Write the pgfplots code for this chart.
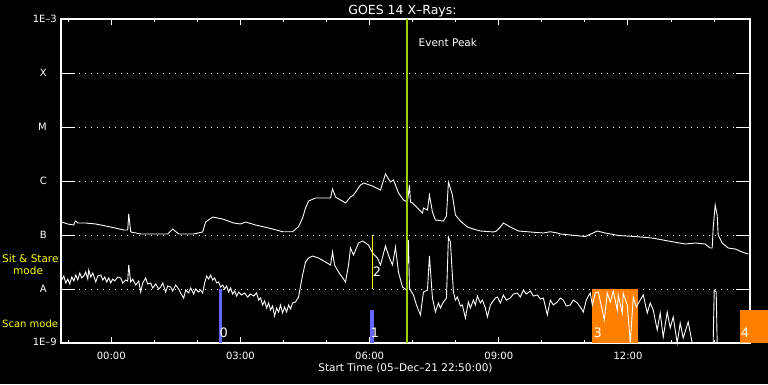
\documentclass[border=0pt]{standalone}
\usepackage{fontspec}
\setmainfont{DejaVu Sans}
\usepackage{pgfplots}
\pgfplotsset{compat=1.18}
\definecolor{evgreen}{RGB}{160,204,0}
\definecolor{barblue}{RGB}{100,100,255}
\definecolor{barorange}{RGB}{255,128,0}
\definecolor{labyellow}{RGB}{255,255,0}
\begin{document}
\begin{tikzpicture}
\useasboundingbox (0,0) rectangle (768pt,384pt);
\fill[black] (0,0) rectangle (768pt,384pt);
\node[labyellow, anchor=base west, inner sep=0pt, font=\fontsize{10.5}{12}\selectfont] at (2pt,121.5pt) {Sit \& Stare};
\node[labyellow, anchor=base west, inner sep=0pt, font=\fontsize{10.5}{12}\selectfont] at (13pt,109.5pt) {mode};
\node[labyellow, anchor=base west, inner sep=0pt, font=\fontsize{10}{12}\selectfont] at (2pt,56.5pt) {Scan mode};
\begin{axis}[
  at={(61pt,41pt)}, anchor=south west,
  scale only axis, width=689pt, height=324pt,
  xmin=-1.1667, xmax=14.8333, ymin=-9, ymax=-3,
  clip=false,
  axis line style={white, line width=1.2pt},
  xtick={0,3,6,9,12},
  xticklabels={00:00,03:00,06:00,09:00,12:00},
  minor xtick={-1,1,2,4,5,7,8,10,11,13,14},
  major tick length=6pt, minor tick length=3pt,
  tick style={white, line width=1pt},
  ytick={-9,-8,-7,-6,-5,-4,-3},
  yticklabels={\raisebox{3pt}{1E--9},A\hspace*{10pt},B\hspace*{10pt},C\hspace*{10pt},M\hspace*{10pt},X\hspace*{10pt},\raisebox{-4pt}{1E--3}},
  ytick style={/pgfplots/major tick length=14pt},
  ymajorgrids,
  major grid style={white, line width=0.9pt, dash pattern=on 0.9pt off 5.1pt},
  tick label style={white, font=\fontsize{10}{12}\selectfont},
  xticklabel style={inner sep=0pt, yshift=-9pt},
  yticklabel style={inner sep=0pt, xshift=-4pt},
  every axis title shift=0pt,
  title={GOES 14 X--Rays:},
  title style={white, font=\fontsize{12.5}{14}\selectfont, at={(axis description cs:0.5,1)}, anchor=base, yshift=5pt, xshift=-3pt, inner sep=0pt},
  xlabel={Start Time (05--Dec--21 22:50:00)},
  xlabel style={white, font=\fontsize{10.5}{12}\selectfont, at={(axis description cs:0.5,0)}, anchor=base, yshift=-28.5pt, inner sep=0pt},
]
% observation mode boxes
\addplot[fill=barorange, draw=none] coordinates {(11.171,-9) (12.231,-9) (12.231,-8) (11.171,-8)} -- cycle;
\addplot[fill=barorange, draw=none] coordinates {(14.604,-9) (15.254,-9) (15.254,-8.389) (14.604,-8.389)} -- cycle;
\addplot[fill=barblue, draw=none] coordinates {(2.494,-9) (2.575,-9) (2.575,-8) (2.494,-8)} -- cycle;
\addplot[fill=barblue, draw=none] coordinates {(6.020,-9) (6.102,-9) (6.102,-8.389) (6.020,-8.389)} -- cycle;
% long channel (log10 W/m^2)
\addplot[white, line width=0.9pt] table {
-1.148 -6.759
-1.009 -6.796
-0.870 -6.815
-0.847 -6.759
-0.824 -6.741
-0.777 -6.778
-0.592 -6.778
-0.360 -6.796
-0.012 -6.852
0.290 -6.907
0.383 -6.907
0.406 -6.611
0.452 -6.944
0.684 -6.981
1.311 -6.981
1.427 -6.889
1.566 -6.981
1.914 -6.981
2.123 -6.944
2.192 -6.759
2.355 -6.667
2.587 -6.704
2.842 -6.778
3.004 -6.796
3.121 -6.759
3.352 -6.815
3.654 -6.870
3.979 -6.939
4.211 -6.939
4.350 -6.846
4.443 -6.685
4.512 -6.500
4.582 -6.370
4.745 -6.315
5.092 -6.315
5.139 -6.148
5.208 -6.296
5.440 -6.407
5.556 -6.296
5.626 -6.259
5.788 -6.074
5.858 -6.037
6.067 -6.093
6.252 -6.167
6.368 -5.870
6.484 -6.019
6.554 -5.981
6.670 -6.222
6.786 -6.352
6.879 -6.389
6.925 -6.074
6.948 -6.389
6.995 -6.407
7.111 -6.500
7.227 -6.593
7.250 -6.500
7.343 -6.537
7.389 -6.259
7.459 -6.574
7.528 -6.722
7.714 -6.741
7.784 -6.648
7.830 -6.019
7.923 -6.259
7.992 -6.630
8.108 -6.741
8.271 -6.852
8.410 -6.889
8.572 -6.926
8.874 -6.944
8.944 -6.926
9.036 -6.852
9.106 -6.778
9.268 -6.852
9.454 -6.926
9.732 -6.944
10.034 -6.963
10.196 -6.939
10.359 -6.963
10.428 -6.981
10.660 -7.000
11.008 -7.028
11.240 -6.944
11.287 -6.926
11.473 -6.963
11.774 -7.009
12.169 -7.028
12.563 -7.056
12.934 -7.111
13.328 -7.167
13.561 -7.148
13.793 -7.167
13.909 -7.241
13.955 -7.241
13.978 -6.870
14.025 -6.444
14.071 -6.630
14.094 -7.000
14.188 -7.148
14.327 -7.241
14.489 -7.259
14.651 -7.315
14.791 -7.352
};
% short channel (log10 W/m^2)
\addplot[white, line width=0.9pt] table {
-1.148 -7.833
-1.102 -7.759
-1.056 -7.889
-1.009 -7.815
-0.963 -7.907
-0.916 -7.778
-0.870 -7.852
-0.824 -7.741
-0.777 -7.833
-0.731 -7.704
-0.684 -7.796
-0.638 -7.759
-0.592 -7.685
-0.545 -7.815
-0.522 -7.648
-0.476 -7.778
-0.429 -7.704
-0.360 -7.870
-0.313 -7.759
-0.244 -7.741
-0.197 -7.833
-0.151 -7.778
-0.104 -7.870
-0.058 -7.796
-0.012 -7.889
0.035 -7.815
0.081 -7.852
0.151 -7.778
0.220 -7.796
0.267 -7.889
0.336 -7.833
0.383 -7.852
0.406 -7.556
0.452 -7.870
0.499 -7.815
0.568 -7.926
0.638 -7.852
0.684 -8.056
0.731 -7.889
0.800 -7.796
0.847 -7.907
0.916 -7.889
0.963 -7.981
1.032 -7.907
1.102 -8.000
1.148 -7.963
1.195 -7.889
1.264 -8.056
1.311 -7.944
1.380 -7.963
1.427 -8.037
1.496 -7.926
1.566 -8.000
1.612 -8.074
1.682 -8.167
1.728 -8.019
1.798 -8.074
1.844 -7.981
1.914 -8.093
1.960 -8.000
2.030 -8.056
2.076 -8.019
2.123 -8.074
2.169 -7.889
2.216 -7.759
2.262 -7.815
2.308 -7.741
2.355 -7.833
2.401 -7.796
2.448 -7.889
2.494 -7.870
2.540 -7.963
2.587 -7.926
2.633 -8.000
2.680 -7.944
2.726 -8.056
2.772 -7.981
2.819 -8.093
2.865 -8.037
2.912 -8.130
2.958 -8.056
3.028 -8.111
3.097 -8.074
3.167 -8.148
3.236 -8.093
3.306 -8.130
3.376 -8.074
3.422 -8.204
3.468 -8.167
3.515 -8.296
3.561 -8.222
3.608 -8.352
3.654 -8.259
3.700 -8.389
3.747 -8.315
3.793 -8.500
3.840 -8.352
3.886 -8.426
3.932 -8.296
3.979 -8.444
4.025 -8.333
4.072 -8.426
4.118 -8.296
4.164 -8.370
4.211 -8.259
4.280 -8.241
4.350 -8.148
4.443 -7.741
4.512 -7.500
4.582 -7.426
4.675 -7.389
4.814 -7.426
4.976 -7.500
5.092 -7.556
5.139 -7.315
5.185 -7.556
5.278 -7.685
5.440 -7.870
5.510 -7.556
5.556 -7.241
5.626 -7.370
5.742 -7.148
5.835 -7.111
5.974 -7.185
6.067 -7.333
6.183 -7.426
6.252 -7.556
6.368 -7.204
6.461 -7.426
6.531 -7.556
6.600 -7.222
6.670 -7.685
6.763 -7.963
6.856 -8.019
6.902 -7.093
6.925 -7.981
6.948 -8.019
7.018 -8.111
7.088 -8.296
7.180 -8.481
7.250 -8.056
7.343 -8.019
7.389 -7.389
7.459 -8.167
7.528 -8.426
7.598 -8.259
7.644 -8.352
7.714 -8.241
7.784 -8.167
7.830 -7.037
7.876 -7.130
7.946 -8.056
7.992 -8.204
8.039 -8.148
8.108 -8.315
8.155 -8.296
8.224 -8.537
8.294 -8.241
8.340 -8.352
8.410 -8.204
8.456 -8.296
8.503 -8.130
8.572 -8.259
8.619 -8.204
8.688 -8.352
8.735 -8.519
8.804 -8.296
8.851 -8.241
8.920 -8.167
8.967 -8.148
9.036 -8.259
9.106 -8.111
9.176 -8.204
9.268 -8.167
9.338 -8.093
9.431 -8.074
9.500 -8.148
9.570 -8.019
9.640 -8.093
9.732 -8.037
9.802 -8.130
9.895 -8.111
9.964 -8.185
10.034 -8.167
10.127 -8.481
10.196 -8.204
10.266 -8.296
10.359 -8.241
10.428 -8.167
10.498 -8.204
10.568 -8.315
10.660 -8.296
10.730 -8.204
10.823 -8.259
10.892 -8.333
10.962 -8.426
11.032 -8.204
11.078 -8.130
11.124 -8.074
11.171 -8.296
11.240 -8.074
11.310 -8.056
11.403 -8.389
11.449 -8.574
11.519 -8.074
11.589 -8.241
11.658 -8.037
11.751 -8.389
11.774 -8.111
11.867 -8.444
11.890 -8.074
11.983 -8.296
12.053 -9.000
12.122 -8.148
12.192 -8.333
12.284 -8.204
12.354 -8.111
12.447 -8.444
12.516 -8.259
12.586 -8.389
12.679 -8.759
12.748 -8.444
12.818 -8.889
12.911 -8.426
12.980 -8.722
13.050 -8.519
13.143 -9.000
13.212 -8.630
13.282 -8.907
13.398 -8.611
13.491 -9.000
13.978 -9.000
14.002 -8.019
14.048 -8.056
14.071 -9.000
14.830 -9.000
};
% event markers
\addplot[evgreen, line width=2.5pt] coordinates {(6.87,-9) (6.87,-3)};
\addplot[labyellow, line width=1pt] coordinates {(6.067,-7) (6.067,-8)};
\node[white, anchor=west, inner sep=0pt, font=\fontsize{10.5}{12}\selectfont] at (axis cs:7.134,-3.444) {Event Peak};
\node[white, inner sep=0pt, font=\fontsize{13}{15}\selectfont] at (axis cs:2.610,-8.815) {0};
\node[white, inner sep=0pt, font=\fontsize{13}{15}\selectfont] at (axis cs:6.125,-8.815) {1};
\node[white, inner sep=0pt, font=\fontsize{13}{15}\selectfont] at (axis cs:6.171,-7.685) {2};
\node[white, inner sep=0pt, font=\fontsize{13}{15}\selectfont] at (axis cs:11.298,-8.815) {3};
\node[white, inner sep=0pt, font=\fontsize{13}{15}\selectfont] at (axis cs:14.720,-8.815) {4};
\end{axis}
\end{tikzpicture}
\end{document}
